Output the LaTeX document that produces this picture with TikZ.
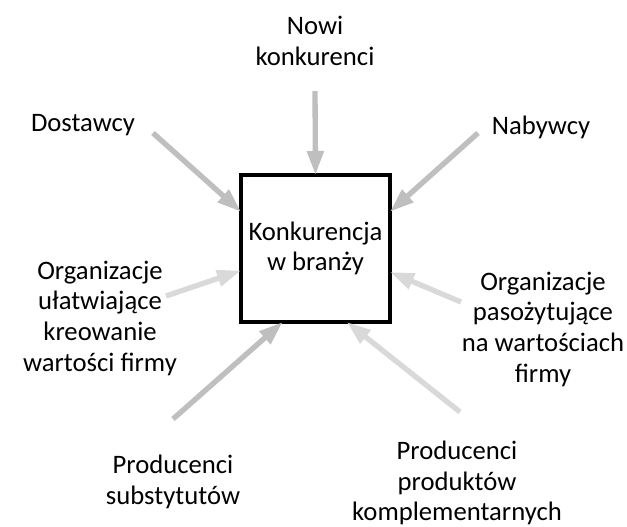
\documentclass[tikz,border=0pt]{standalone}
\usepackage{fontspec}
\setmainfont{Carlito}
\usetikzlibrary{arrows.meta,calc}
\begin{document}
\begin{tikzpicture}[x=0.75pt,y=-0.75pt,
  lbl/.style={align=center,font=\fontsize{20}{23}\selectfont,inner sep=0pt},
  force/.style={line width=4pt,-{Triangle[width=12pt,length=18pt]}},
  strong/.style={force,color=black!25},
  weak/.style={force,color=black!15}]
\useasboundingbox (0,0) rectangle (627,526);

% central box
\node[draw,line width=3pt,minimum width=111.75pt,minimum height=110.25pt,
      inner sep=0pt,outer sep=0pt,lbl] (box) at (315.5,248.5) {Konkurencja\\w branży};

% labels of the surrounding forces
\node[lbl] (nowi) at (315,41)  {Nowi\\konkurenci};
\node[lbl] (dost) at (83,125)  {Dostawcy};
\node[lbl] (nab)  at (541,127) {Nabywcy};
\node[lbl] (ulat) at (100,318) {Organizacje\\ułatwiające\\kreowanie\\wartości firmy};
\node[lbl] (paso) at (543,329) {Organizacje\\pasożytujące\\na wartościach\\firmy};
\node[lbl] (subs) at (173,482) {Producenci\\substytutów};
\node[lbl] (komp) at (457,483) {Producenci\\produktów\\komplementarnych};

% arrow tails
\coordinate (tN)  at (315,91);
\coordinate (tD)  at (153,133);
\coordinate (tB)  at (478,133);
\coordinate (tU)  at (166,296);
\coordinate (tP)  at (461,302);
\coordinate (tS)  at (173,419);
\coordinate (tK)  at (460,412);

% arrows pointing at the box
\draw[strong] (tN) -- (box.north);
\draw[strong] (tD) -- ($(box.north west)!0.25!(box.south west)$);
\draw[strong] (tB) -- ($(box.north east)!0.25!(box.south east)$);
\draw[weak]   (tU) -- ($(box.north west)!0.65!(box.south west)$);
\draw[weak]   (tP) -- ($(box.north east)!0.66!(box.south east)$);
\draw[strong] (tS) -- ($(box.south west)!0.28!(box.south east)$);
\draw[weak]   (tK) -- ($(box.south west)!0.71!(box.south east)$);
\end{tikzpicture}
\end{document}
